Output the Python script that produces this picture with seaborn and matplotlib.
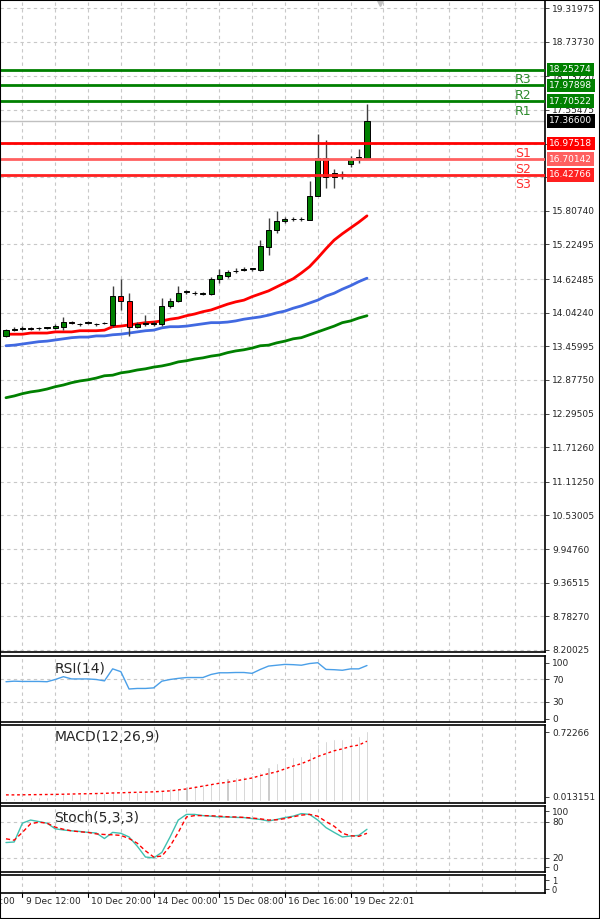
import matplotlib
matplotlib.use('Agg')
import matplotlib.pyplot as plt
import seaborn as sns
import numpy as np
import pandas as pd

# --- data ---
opens = [13.64, 13.74, 13.76, 13.78, 13.77, 13.78, 13.78, 13.80, 13.88, 13.85, 13.87, 13.84, 13.86,
         13.83, 14.33, 14.25, 13.80, 13.84, 13.84, 13.84, 14.16, 14.25, 14.40, 14.38, 14.37,
         14.37, 14.63, 14.68, 14.76, 14.79, 14.80, 14.78, 15.18, 15.48, 15.63, 15.66, 15.66,
         15.65, 16.06, 16.72, 16.39, 16.44, 16.62, 16.72, 16.72]
closes = [13.74, 13.76, 13.78, 13.76, 13.78, 13.78, 13.81, 13.88, 13.86, 13.84, 13.88, 13.84, 13.86,
          14.33, 14.25, 13.80, 13.84, 13.86, 13.86, 14.16, 14.25, 14.38, 14.40, 14.38, 14.37,
          14.63, 14.70, 14.75, 14.77, 14.80, 14.80, 15.20, 15.48, 15.63, 15.67, 15.66, 15.67,
          16.06, 16.72, 16.39, 16.46, 16.45, 16.71, 16.72, 17.37]
highs = [13.76, 13.79, 13.81, 13.80, 13.80, 13.80, 13.84, 13.96, 13.90, 13.87, 13.90, 13.86, 13.88,
         14.50, 14.62, 14.38, 13.88, 14.00, 13.90, 14.30, 14.29, 14.50, 14.43, 14.42, 14.40,
         14.66, 14.80, 14.79, 14.81, 14.84, 14.82, 15.30, 15.68, 15.80, 15.70, 15.70, 15.70,
         16.32, 17.14, 17.03, 16.53, 16.50, 16.75, 16.88, 17.66]
lows = [13.62, 13.72, 13.74, 13.74, 13.75, 13.76, 13.76, 13.74, 13.84, 13.82, 13.85, 13.82, 13.84,
        13.79, 14.09, 13.64, 13.78, 13.82, 13.82, 13.82, 14.12, 14.22, 14.37, 14.35, 14.35,
        14.35, 14.56, 14.65, 14.73, 14.77, 14.77, 14.77, 15.05, 15.42, 15.60, 15.63, 15.63,
        15.64, 16.06, 16.20, 16.20, 16.35, 16.57, 16.63, 16.72]

ma_red = [13.67, 13.67, 13.67, 13.69, 13.69, 13.69, 13.71, 13.71, 13.71, 13.73, 13.73, 13.73, 13.74,
          13.80, 13.81, 13.83, 13.85, 13.87, 13.88, 13.90, 13.93, 13.95, 13.99, 14.02, 14.06,
          14.09, 14.14, 14.19, 14.23, 14.26, 14.32, 14.37, 14.42, 14.49, 14.56, 14.63, 14.73,
          14.84, 14.99, 15.15, 15.30, 15.41, 15.51, 15.61, 15.72]
ma_blue = [13.47, 13.48, 13.50, 13.52, 13.54, 13.55, 13.57, 13.59, 13.61, 13.62, 13.62, 13.64, 13.64,
           13.66, 13.67, 13.69, 13.71, 13.73, 13.74, 13.78, 13.80, 13.80, 13.81, 13.83, 13.85,
           13.87, 13.87, 13.88, 13.90, 13.93, 13.95, 13.97, 14.00, 14.04, 14.07, 14.12, 14.16,
           14.21, 14.26, 14.33, 14.38, 14.45, 14.51, 14.58, 14.64]
ma_green = [12.57, 12.60, 12.64, 12.67, 12.69, 12.72, 12.76, 12.79, 12.83, 12.86, 12.88, 12.91, 12.95,
            12.96, 13.00, 13.02, 13.05, 13.07, 13.10, 13.12, 13.15, 13.19, 13.21, 13.24, 13.26,
            13.29, 13.31, 13.35, 13.38, 13.40, 13.43, 13.47, 13.48, 13.52, 13.55, 13.59, 13.61,
            13.66, 13.71, 13.76, 13.81, 13.87, 13.90, 13.95, 13.99]

rsi = [66, 67, 66.5, 66.5, 66.5, 66, 70, 75, 71, 71, 71, 70, 67.5, 89, 84, 53, 54, 54, 55, 67, 70,
       72, 73.5, 73.5, 73.5, 79, 82, 82, 82.5, 82.5, 81, 88, 94, 95.5, 97, 96.5, 95.5, 98.5, 100,
       88, 87.5, 86.5, 89, 89, 95]

macd_hist = [0.04, 0.04, 0.04, 0.045, 0.045, 0.05, 0.05, 0.08, 0.08, 0.08, 0.085, 0.085, 0.09,
             0.10, 0.10, 0.10, 0.10, 0.10, 0.105, 0.12, 0.14, 0.145, 0.16, 0.17, 0.18, 0.19,
             0.24, 0.25, 0.26, 0.265, 0.275, 0.31, 0.36, 0.40, 0.47, 0.47, 0.48, 0.52, 0.60,
             0.63, 0.65, 0.655, 0.665, 0.69, 0.74]
macd_signal = [0.068, 0.068, 0.069, 0.07, 0.071, 0.072, 0.073, 0.075, 0.077, 0.079, 0.08, 0.082,
               0.084, 0.088, 0.09, 0.093, 0.095, 0.097, 0.1, 0.105, 0.11, 0.12, 0.13, 0.145, 0.16,
               0.175, 0.19, 0.2, 0.215, 0.23, 0.245, 0.27, 0.29, 0.31, 0.34, 0.37, 0.395, 0.43,
               0.47, 0.5, 0.53, 0.55, 0.575, 0.59, 0.63]

stoch_k = [45.1, 46, 77.4, 82.6, 80, 77.4, 68, 66, 64.6, 63.6, 62, 61, 51.8, 62, 60.5, 54.4, 39, 21,
           19.5, 28.7, 54.4, 82.6, 92, 92, 90, 89, 87.7, 87.7, 87, 86.7, 85, 83.6, 81, 83.6, 86.7,
           89, 93.3, 92, 82.6, 70, 62, 54.4, 56, 57, 67.2]
stoch_d = [51.3, 49, 62, 76.4, 79, 77.4, 70.8, 67.2, 64.6, 63, 62, 59.5, 58.5, 58, 57, 51.8, 44,
           31.3, 21, 22.6, 39, 62, 87.7, 90, 90, 89.7, 89, 88, 87.7, 87, 86, 84.6, 82.6, 83, 85,
           88, 90.8, 92, 89, 80, 72.3, 60.5, 56.4, 55.4, 60.5]

levels = {"R3": 18.25274, "R2": 17.97898, "R1": 17.70522,
          "S1": 16.97518, "S2": 16.70142, "S3": 16.42766}
last_price = 17.36600

price_ticks = [19.31975, 18.73730, 18.13720, 17.55475, 16.97230, 16.38985, 15.80740, 15.22495,
               14.62485, 14.04240, 13.45995, 12.87750, 12.29505, 11.71260, 11.11250, 10.53005,
               9.94760, 9.36515, 8.78270, 8.20025]
hidden_ticks = [16.97230, 16.38985]  # covered by the S1/S3 boxes in the reference
time_labels = ["9 Dec 04:00", "9 Dec 12:00", "10 Dec 20:00", "14 Dec 00:00", "15 Dec 08:00",
               "16 Dec 16:00", "19 Dec 22:01"]
time_pos = [-6, 2, 10, 18, 26, 34, 42]

# --- figure ---
sns.set_style("white")
plt.rcParams['font.family'] = ['DejaVu Sans']
W, H = 600, 919
fig = plt.figure(figsize=(W / 100, H / 100), dpi=100)

def mkax(top, bottom):
    return fig.add_axes([0.0, 1 - bottom / H, 545 / W, (bottom - top) / H])

ax = mkax(0, 652)
ax_rsi = mkax(656, 722)
ax_macd = mkax(725, 803)
ax_st = mkax(806, 872)
ax_e = mkax(875, 893)

idx = np.arange(len(opens))
xmin, xmax = -0.73, 65.7
grid_x = np.arange(-6, 66, 4)
gkw = dict(color='#c8c8c8', lw=0.8, ls=(0, (3, 3)))

for a in [ax, ax_rsi, ax_macd, ax_st, ax_e]:
    a.set_xlim(xmin, xmax)
    for gx in grid_x:
        a.axvline(gx, zorder=0, **gkw)
    for s in a.spines.values():
        s.set_color('black')
        s.set_linewidth(1.2)
    a.yaxis.tick_right()
    a.tick_params(axis='y', length=3, width=0.6, pad=2, labelsize=6.5)
    a.set_xticks([])

# main price panel
ax.set_ylim(8.165, 19.459)
ax.set_yticks(price_ticks)
ax.set_yticklabels(["" if t in hidden_ticks else f"{t:.5f}" for t in price_ticks])
for t in price_ticks:
    ax.axhline(t, zorder=0, **gkw)

df = pd.DataFrame({"i": idx, "red": ma_red, "blue": ma_blue, "green": ma_green})
sns.lineplot(data=df, x="i", y="green", ax=ax, color='#008000', lw=2, zorder=2)
sns.lineplot(data=df, x="i", y="blue", ax=ax, color='#4169e1', lw=2, zorder=2)
sns.lineplot(data=df, x="i", y="red", ax=ax, color='#ff0000', lw=2, zorder=2)

for i, o, c, h, l in zip(idx, opens, closes, highs, lows):
    ax.vlines(i, l, h, color='#404040', lw=1, zorder=3)
    col = '#008000' if c >= o else '#ff0000'
    body = max(abs(c - o), 0.012)
    ax.bar(i, body, bottom=min(o, c), width=0.62, color=col, edgecolor='black', lw=0.7, zorder=4)

ax.axhline(last_price, color='#c0c0c0', lw=1, zorder=1)
lvl_col = {"R3": '#008000', "R2": '#008000', "R1": '#008000',
           "S1": '#ff0000', "S2": '#ff6060', "S3": '#ff2020'}
txt_col = {"R3": '#2e8b2e', "R2": '#2e8b2e', "R1": '#2e8b2e',
           "S1": '#ff3030', "S2": '#ff3030', "S3": '#ff3030'}
for name, v in levels.items():
    ax.axhline(v, color=lvl_col[name], lw=2, zorder=5)
    ax.text(62.0, v - 0.06, name, color=txt_col[name], fontsize=9, va='top', ha='left', zorder=6)
    ax.annotate(f"{v:.5f}", xy=(1.008, v), xycoords=('axes fraction', 'data'), va='center',
                ha='left', fontsize=6.5, color='white', annotation_clip=False,
                bbox=dict(boxstyle='square,pad=0.25', fc=lvl_col[name], ec='none'))
ax.annotate(f"{last_price:.5f}", xy=(1.008, last_price), xycoords=('axes fraction', 'data'),
            va='center', ha='left', fontsize=6.5, color='white', annotation_clip=False,
            bbox=dict(boxstyle='square,pad=0.25', fc='black', ec='none'))
ax.plot([45.6], [19.43], marker='v', color='#c0c0c0', ms=6, clip_on=False, zorder=6)
ax.set_xlabel("")
ax.set_ylabel("")

# RSI
ax_rsi.set_ylim(-6, 112)
ax_rsi.set_yticks([100, 70, 30, 0])
for t in [70, 30]:
    ax_rsi.axhline(t, zorder=0, **gkw)
sns.lineplot(x=idx, y=rsi, ax=ax_rsi, color='#4a9fe8', lw=1)
ax_rsi.text(0.1, 0.92, "RSI(14)", transform=ax_rsi.transAxes, fontsize=10, va='top')

# MACD
ax_macd.set_ylim(-0.017, 0.80)
ax_macd.set_yticks([0.72266, 0.05])
ax_macd.set_yticklabels(["0.72266", "0.013151"])
ax_macd.bar(idx, macd_hist, width=0.25, color='#c0c0c0', zorder=2)
sns.lineplot(x=idx, y=macd_signal, ax=ax_macd, color='#ff0000', lw=1, ls=(0, (2, 2)), zorder=3)
ax_macd.text(0.1, 0.93, "MACD(12,26,9)", transform=ax_macd.transAxes, fontsize=10, va='top')

# Stochastic
ax_st.set_ylim(-4, 106)
ax_st.set_yticks([97, 80, 20, 4])
ax_st.set_yticklabels(["100", "80", "20", "0"])
for t in [80, 20]:
    ax_st.axhline(t, zorder=0, **gkw)
sns.lineplot(x=idx, y=stoch_k, ax=ax_st, color='#40c0b0', lw=1)
sns.lineplot(x=idx, y=stoch_d, ax=ax_st, color='#ff0000', lw=1, ls=(0, (3, 2)))
ax_st.text(0.1, 0.92, "Stoch(5,3,3)", transform=ax_st.transAxes, fontsize=10, va='top')

# empty bottom panel + time axis
ax_e.set_ylim(-0.4, 1.6)
ax_e.set_yticks([1, 0])
ax_e.tick_params(axis='y', labelsize=6)
for p, lab in zip(time_pos, time_labels):
    ax_e.plot([p, p], [-0.4, -0.8], color='black', lw=0.8, clip_on=False)
    ax_e.text(p + 0.4, -0.9, lab, fontsize=6.5, ha='left', va='top', clip_on=False)

fig.patches.append(plt.Rectangle((0, 0), 1, 1, transform=fig.transFigure,
                                 fill=False, ec='black', lw=1.5))
fig.savefig("out.png", dpi=100)
